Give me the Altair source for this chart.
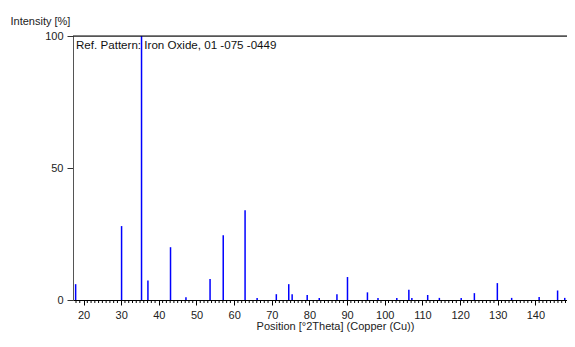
import altair as alt
import pandas as pd

# Peak positions (°2Theta) and relative intensities (%)
positions = [17.9, 30.1, 35.4, 37.1, 43.1, 47.2, 53.6, 57.1, 62.9, 66.1, 71.2,
             74.5, 75.4, 79.4, 82.6, 87.3, 90.1, 95.4, 98.2, 103.2, 106.4,
             107.2, 111.4, 114.5, 120.3, 123.8, 129.9, 133.7, 141.0, 145.9, 147.8]
intensities = [6.0, 28.0, 100.0, 7.4, 20.0, 1.0, 8.0, 24.5, 34.0, 0.8, 2.2,
               6.0, 2.2, 1.9, 0.8, 2.2, 8.7, 2.9, 0.8, 0.8, 3.9,
               0.8, 1.9, 0.8, 0.8, 2.6, 6.4, 0.8, 1.1, 3.6, 0.8]

x_major = [20, 30, 40, 50, 60, 70, 80, 90, 100, 110, 120, 130, 140]
x_minor = [v for v in range(18, 149) if v % 10 != 0]
y_ticks = [0, 50, 100]
ref_label = ["Ref. Pattern: Iron Oxide, 01 -075 -0449"]

df = pd.DataFrame({"pos": positions, "intensity": intensities})
minor_df = pd.DataFrame({"pos": x_minor})
one = pd.DataFrame({"a": [0]})

W, H = 494, 264
FONT = "Liberation Sans"
xs = alt.Scale(domain=[17.2, 148.4], nice=False, zero=False)
ys = alt.Scale(domain=[0, 100], nice=False)


def x_axis():
    return alt.Axis(
        values=x_major, title="Position [°2Theta] (Copper (Cu))", grid=False,
        tickSize=5, tickColor="#000", domainColor="#000", labelPadding=4,
        titleX=262, titleY=20, titleBaseline="top")


bars = alt.Chart(df).mark_rule(color="#0000ff", strokeWidth=1.5).encode(
    x=alt.X("pos:Q", scale=xs, axis=x_axis()),
    y=alt.Y("intensity:Q", scale=ys, axis=alt.Axis(
        values=y_ticks, title="Intensity [%]", grid=False, tickSize=6,
        tickColor="#333", domainColor="#555", labelPadding=4,
        titleAngle=0, titleAlign="left", titleX=-63, titleY=-12,
        titleBaseline="alphabetic")),
    y2=alt.datum(0),
)

minor = alt.Chart(minor_df).mark_rule(color="#000", strokeWidth=1).encode(
    x=alt.X("pos:Q", scale=xs, axis=x_axis()),
    y=alt.value(H + 1),
    y2=alt.value(H + 3),
)

top_line = alt.Chart(one).mark_rule(color="#000", strokeWidth=1).encode(
    x=alt.value(0), x2=alt.value(W), y=alt.value(0))

ref_text = alt.Chart(pd.DataFrame({"t": ref_label})).mark_text(
    align="left", baseline="top", font=FONT, fontSize=11.6, color="#111"
).encode(x=alt.value(3), y=alt.value(4), text="t:N")

chart = alt.layer(bars, minor, top_line, ref_text).properties(
    width=W, height=H,
    autosize=alt.AutoSizeParams(type="none"),
    padding={"left": 65, "top": 28, "right": 0, "bottom": 34},
).configure_view(stroke="#aaaaaa", strokeWidth=1).configure_axis(
    labelFont=FONT, titleFont=FONT, labelFontSize=11, titleFontSize=11,
    titleFontWeight="normal", labelColor="#222", titleColor="#222",
)

chart.save("out.html", embed_options={"renderer": "svg", "actions": False})
